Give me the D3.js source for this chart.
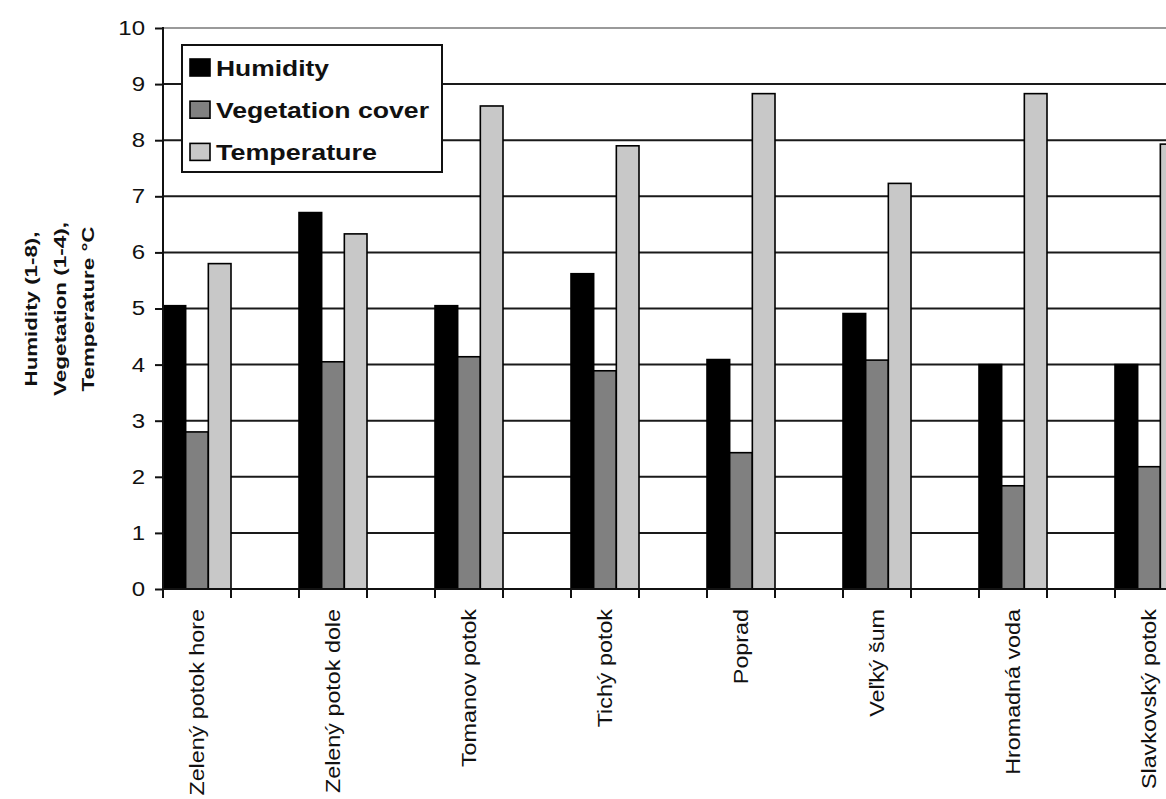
<!DOCTYPE html>
<html>
<head>
<meta charset="utf-8">
<script src="https://cdn.jsdelivr.net/npm/d3@7"></script>
<style>
  html, body { margin: 0; padding: 0; background: #fff; }
  svg { display: block; }
  text { font-family: "Liberation Sans", Arial, sans-serif; fill: #111; }
</style>
</head>
<body>
<svg id="chart" width="1166" height="799"></svg>
<script>
// ---- data ----
const categories = ["Zelený potok hore", "Zelený potok dole", "Tomanov potok", "Tichý potok",
                    "Poprad", "Veľký šum", "Hromadná voda", "Slavkovský potok"];
const seriesNames = ["Humidity", "Vegetation cover", "Temperature"];
const humidity    = [5.05, 6.71, 5.05, 5.62, 4.09, 4.91, 4.00, 4.00];
const vegetation  = [2.80, 4.05, 4.14, 3.89, 2.43, 4.08, 1.84, 2.18];
const temperature = [5.80, 6.33, 8.61, 7.90, 8.83, 7.23, 8.83, 7.93];
const yTicks = [0, 1, 2, 3, 4, 5, 6, 7, 8, 9, 10];
const yTitleLines = ["Humidity (1-8),", "Vegetation (1-4),", "Temperature °C"];
const seriesColors = ["#000000", "#808080", "#c8c8c8"];

const seriesValues = [humidity, vegetation, temperature];

const svg = d3.select("#chart");

// ---- scales ----
const y = d3.scaleLinear().domain([0, 10]).range([589, 28]);
const x = d3.scaleBand().domain(categories).range([163, 1183])
  .paddingInner(0.5).paddingOuter(0).align(0);
const xSub = d3.scaleBand().domain(seriesNames).range([0, x.bandwidth()]);
const plotRight = 1260;

function stretch(sel, k) {
  sel.each(function () {
    const L = this.getComputedTextLength();
    d3.select(this).attr("textLength", L * k).attr("lengthAdjust", "spacingAndGlyphs");
  });
}

// ---- gridlines ----
svg.append("g").selectAll("line")
  .data(yTicks.filter(d => d > 0))
  .join("line")
  .attr("x1", x.range()[0]).attr("x2", plotRight)
  .attr("y1", d => y(d)).attr("y2", d => y(d))
  .attr("stroke", d => d === 10 ? "#9a9a9a" : "#1a1a1a")
  .attr("stroke-width", 2);

// ---- bars ----
const rows = [];
categories.forEach((c, i) => {
  seriesNames.forEach((s, j) => rows.push({ cat: c, series: s, value: seriesValues[j][i], color: seriesColors[j] }));
});
svg.append("g").selectAll("rect")
  .data(rows)
  .join("rect")
  .attr("x", d => x(d.cat) + xSub(d.series))
  .attr("y", d => y(d.value))
  .attr("width", xSub.bandwidth())
  .attr("height", d => y(0) - y(d.value))
  .attr("fill", d => d.color)
  .attr("stroke", "#000")
  .attr("stroke-width", 1.6);

// ---- y axis ----
const yAxis = svg.append("g")
  .attr("transform", `translate(${x.range()[0]},0)`)
  .call(d3.axisLeft(y).tickValues(yTicks).tickSize(8).tickPadding(10).tickFormat(d3.format("d")));
yAxis.select(".domain").attr("stroke", "#111").attr("stroke-width", 2).attr("d", `M0,${y(10) - 1}V${y(0)}`);
yAxis.selectAll(".tick line").attr("stroke", "#111").attr("stroke-width", 2);
yAxis.selectAll(".tick text").attr("font-size", 20).attr("fill", "#111")
  .style("font-family", "'Liberation Sans', Arial, sans-serif");
stretch(yAxis.selectAll(".tick text"), 1.2);

// ---- x axis line and ticks at band edges ----
svg.append("line")
  .attr("x1", x.range()[0]).attr("x2", plotRight)
  .attr("y1", y(0)).attr("y2", y(0))
  .attr("stroke", "#111").attr("stroke-width", 2);
const edges = [];
categories.forEach(c => { edges.push(x(c)); edges.push(x(c) + x.bandwidth()); });
edges.push(x(categories[categories.length - 1]) + x.step());
svg.append("g").selectAll("line")
  .data(edges)
  .join("line")
  .attr("x1", d => d).attr("x2", d => d)
  .attr("y1", y(0)).attr("y2", y(0) + 9)
  .attr("stroke", "#111").attr("stroke-width", 2);

// ---- category labels ----
const xl = svg.append("g").selectAll("text")
  .data(categories)
  .join("text")
  .attr("transform", d => `translate(${x(d) + x.bandwidth() / 2},609) rotate(-90)`)
  .attr("text-anchor", "end")
  .attr("dy", "0.35em")
  .attr("font-size", 21)
  .text(d => d);
stretch(xl, 1.11);

// ---- y title ----
const titleX = [31, 60, 88];
const titleLen = [155, 174, 165];
const yt = svg.append("g").selectAll("text")
  .data(yTitleLines)
  .join("text")
  .attr("text-anchor", "middle")
  .attr("dy", "0.35em")
  .attr("font-size", 17)
  .attr("font-weight", "bold")
  .text(d => d);
yt.each(function (d, i) {
  const L = this.getComputedTextLength();
  const k = titleLen[i] / L;
  d3.select(this).attr("transform", `translate(${titleX[i]},309) rotate(-90) scale(${k},1)`);
});

// ---- legend ----
const legend = svg.append("g");
legend.append("rect")
  .attr("x", 182).attr("y", 45).attr("width", 260).attr("height", 127)
  .attr("fill", "#fff").attr("stroke", "#111").attr("stroke-width", 2);
const legendLen = [113, 213, 161];
const legendRows = legend.selectAll("g.row")
  .data(seriesNames)
  .join("g").attr("class", "row")
  .attr("transform", (d, i) => `translate(190,${59 + i * 42.2})`);
legendRows.append("rect")
  .attr("width", 20).attr("height", 17)
  .attr("fill", (d, i) => seriesColors[i])
  .attr("stroke", "#000").attr("stroke-width", 1.6);
legendRows.append("text")
  .attr("x", 26).attr("y", 17)
  .attr("font-size", 22).attr("font-weight", "bold")
  .attr("textLength", (d, i) => legendLen[i])
  .attr("lengthAdjust", "spacingAndGlyphs")
  .text(d => d);
</script>
</body>
</html>
